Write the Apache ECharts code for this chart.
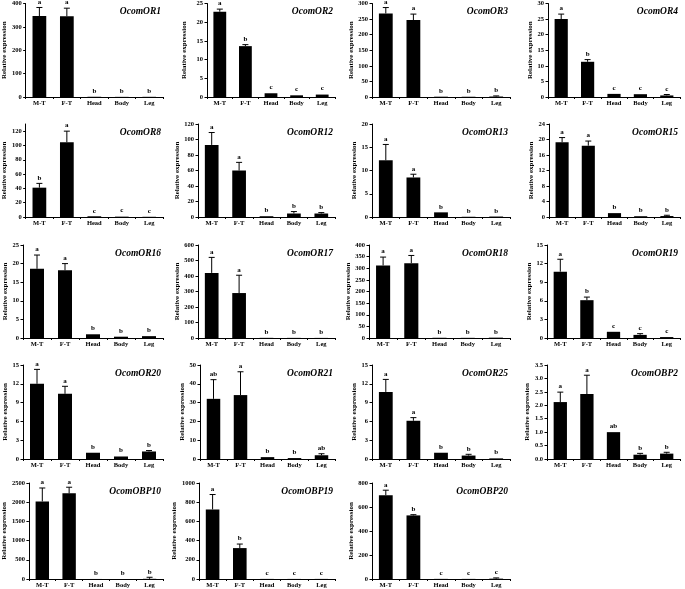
<!DOCTYPE html>
<html><head><meta charset="utf-8">
<script src="https://cdn.jsdelivr.net/npm/echarts@6/dist/echarts.min.js"></script>
<style>html,body{margin:0;padding:0;background:#fff}#c{width:685px;height:589px}</style>
</head><body><div id="c"></div>
<script>
const categories = ['M-T', 'F-T', 'Head', 'Body', 'Leg'];
const genes = ['OcomOR1','OcomOR2','OcomOR3','OcomOR4','OcomOR8','OcomOR12','OcomOR13','OcomOR15',
  'OcomOR16','OcomOR17','OcomOR18','OcomOR19','OcomOR20','OcomOR21','OcomOR25','OcomOBP2',
  'OcomOBP10','OcomOBP19','OcomOBP20'];
const means = [
  [346, 345, 1, 0.6, 0.8],
  [22.8, 13.6, 1.0, 0.45, 0.65],
  [268, 247, 1, 0.8, 1.5],
  [25.0, 11.3, 1.0, 0.9, 0.5],
  [41, 104.5, 1.0, 0.5, 0.3],
  [93, 60, 1.0, 4.5, 4.5],
  [12.2, 8.5, 1.0, 0.05, 0.1],
  [19.3, 18.4, 1.0, 0.2, 0.25],
  [18.6, 18.2, 1.0, 0.35, 0.5],
  [420, 290, 1, 0.8, 0.6],
  [312, 322, 1, 0.7, 1.5],
  [10.7, 6.1, 1.0, 0.5, 0.15],
  [12.0, 10.4, 1.0, 0.4, 1.2],
  [32, 34, 1.0, 0.5, 2.0],
  [10.7, 6.1, 1.0, 0.55, 0.1],
  [2.12, 2.42, 1.0, 0.16, 0.2],
  [2020, 2230, 1, 0.8, 5],
  [725, 322, 1, 0.8, 0.9],
  [698, 530, 1, 0.9, 3]
];
const errs = [
  [37, 35, 0, 0.2, 0.3],
  [0.7, 0.4, 0.05, 0.1, 0.15],
  [19, 19, 0, 0.3, 2],
  [1.6, 0.7, 0.05, 0.1, 0.3],
  [6, 15.5, 0.1, 0.8, 0.2],
  [16, 10.5, 0.1, 2.5, 1.2],
  [3.4, 0.7, 0.02, 0.02, 0.05],
  [1.2, 1.2, 0.02, 0.05, 0.2],
  [3.7, 1.8, 0.05, 0.1, 0.1],
  [100, 115, 0, 0.3, 0.2],
  [36, 33, 0, 0.2, 1],
  [2.0, 0.5, 0.05, 0.2, 0.08],
  [2.3, 1.2, 0.05, 0.05, 0.15],
  [10.2, 12.4, 0.1, 0.1, 0.8],
  [2.0, 0.5, 0.05, 0.2, 0.05],
  [0.37, 0.7, 0.01, 0.05, 0.05],
  [350, 160, 0, 0.5, 40],
  [155, 42, 0, 0.3, 0.3],
  [42, 6, 0, 0.3, 6]
];
const letters = [
  ['a','a','b','b','b'], ['a','b','c','c','c'], ['a','a','b','b','b'], ['a','b','c','c','c'],
  ['b','a','c','c','c'], ['a','a','b','b','b'], ['a','a','b','b','b'], ['a','a','b','b','b'],
  ['a','a','b','b','b'], ['a','a','b','b','b'], ['a','a','b','b','b'], ['a','b','c','c','c'],
  ['a','a','b','b','b'], ['ab','a','b','b','ab'], ['a','a','b','b','b'], ['a','a','ab','b','b'],
  ['a','a','b','b','b'], ['a','b','c','c','c'], ['a','b','c','c','c']
];
const yMax      = [400, 25, 300, 30, 130, 120, 20, 24, 25, 600, 400, 15, 15, 50, 15, 3.5, 2500, 1000, 800];
const yLabelMax = [400, 25, 300, 30, 120, 120, 20, 24, 25, 600, 400, 15, 15, 50, 15, 3.5, 2500, 1000, 800];
const yStep     = [100, 5, 50, 5, 20, 20, 5, 4, 5, 100, 50, 3, 3, 10, 3, 0.5, 500, 200, 200];
const yTitle = 'Relative expression';

// layout
const axisX = [23,207,372,548, 23,198,372,549, 23,198,369,547, 23,200,372,547, 23,199,372];
const colRight = [163, 335, 510, 680];
const colTitleX = [7, 184, 354, 533];
const rowTop = [3, 124, 245, 365, 483];
const rowZero = [97, 217, 338, 459, 579];

const FONT = '"Liberation Serif", "Times New Roman", serif';
const option = {animation: false, grid: [], xAxis: [], yAxis: [], series: [], title: []};

genes.forEach((g, i) => {
  const r = Math.floor(i / 4), c = i % 4;
  option.grid.push({left: axisX[i], top: rowTop[r], width: colRight[c] - axisX[i], height: rowZero[r] - rowTop[r]});
  option.xAxis.push({
    type: 'category', gridIndex: i, data: categories,
    axisLine: {lineStyle: {color: '#000', width: 1}},
    axisTick: {show: true, length: 2, lineStyle: {color: '#000'}},
    axisLabel: {color: '#000', fontFamily: FONT, fontWeight: 'bold', fontSize: 6.5, margin: 3, interval: 0}
  });
  const ticks = [];
  for (let k = 0; k * yStep[i] <= yLabelMax[i] + 1e-9; k++) ticks.push(+(k * yStep[i]).toFixed(3));
  option.yAxis.push({
    type: 'value', gridIndex: i, min: 0, max: yMax[i], interval: yStep[i],
    splitLine: {show: false},
    axisLine: {show: true, lineStyle: {color: '#000', width: 1}},
    axisTick: {show: true, length: 2.5, lineStyle: {color: '#000'}, customValues: ticks},
    axisLabel: {customValues: ticks, color: '#000', fontFamily: FONT, fontWeight: 'bold', fontSize: 6.5, margin: 4,
      formatter: v => yStep[i] < 1 ? Number(v).toFixed(1) : String(v)},
    name: yTitle, nameLocation: 'middle', nameGap: axisX[i] - colTitleX[c] - 4,
    nameTextStyle: {color: '#000', fontFamily: FONT, fontWeight: 'bold', fontSize: 7}
  });
  option.series.push({
    type: 'bar', xAxisIndex: i, yAxisIndex: i, data: means[i], barWidth: '50%',
    itemStyle: {color: '#000'}, silent: true
  });
  option.series.push({
    type: 'custom', xAxisIndex: i, yAxisIndex: i, silent: true, z: 5,
    data: means[i].map((m, k) => [k, m, m + errs[i][k]]),
    renderItem: (params, api) => {
      const x = api.value(0), m = api.value(1), t = api.value(2);
      const p0 = api.coord([x, m]), p1 = api.coord([x, t]);
      const ch = [];
      if (p0[1] - p1[1] > 0.6) {
        ch.push({type: 'line', shape: {x1: p0[0], y1: p0[1], x2: p1[0], y2: p1[1]}, style: {stroke: '#000', lineWidth: 1}});
        ch.push({type: 'line', shape: {x1: p1[0] - 3, y1: p1[1], x2: p1[0] + 3, y2: p1[1]}, style: {stroke: '#000', lineWidth: 1}});
      }
      ch.push({type: 'text', x: p1[0], y: p1[1] - 2,
        style: {text: letters[i][params.dataIndex], fill: '#000', font: 'bold 7px ' + FONT, align: 'center', verticalAlign: 'bottom'}});
      return {type: 'group', children: ch};
    }
  });
  option.title.push({
    text: g, right: 685 - colRight[c] + 2, top: rowTop[r] + 4, padding: 0,
    textStyle: {color: '#000', fontFamily: FONT, fontStyle: 'italic', fontWeight: 'bold', fontSize: 9.5}
  });
});

const chart = echarts.init(document.getElementById('c'), null, {renderer: 'canvas'});
chart.setOption(option);
</script>
</body></html>
